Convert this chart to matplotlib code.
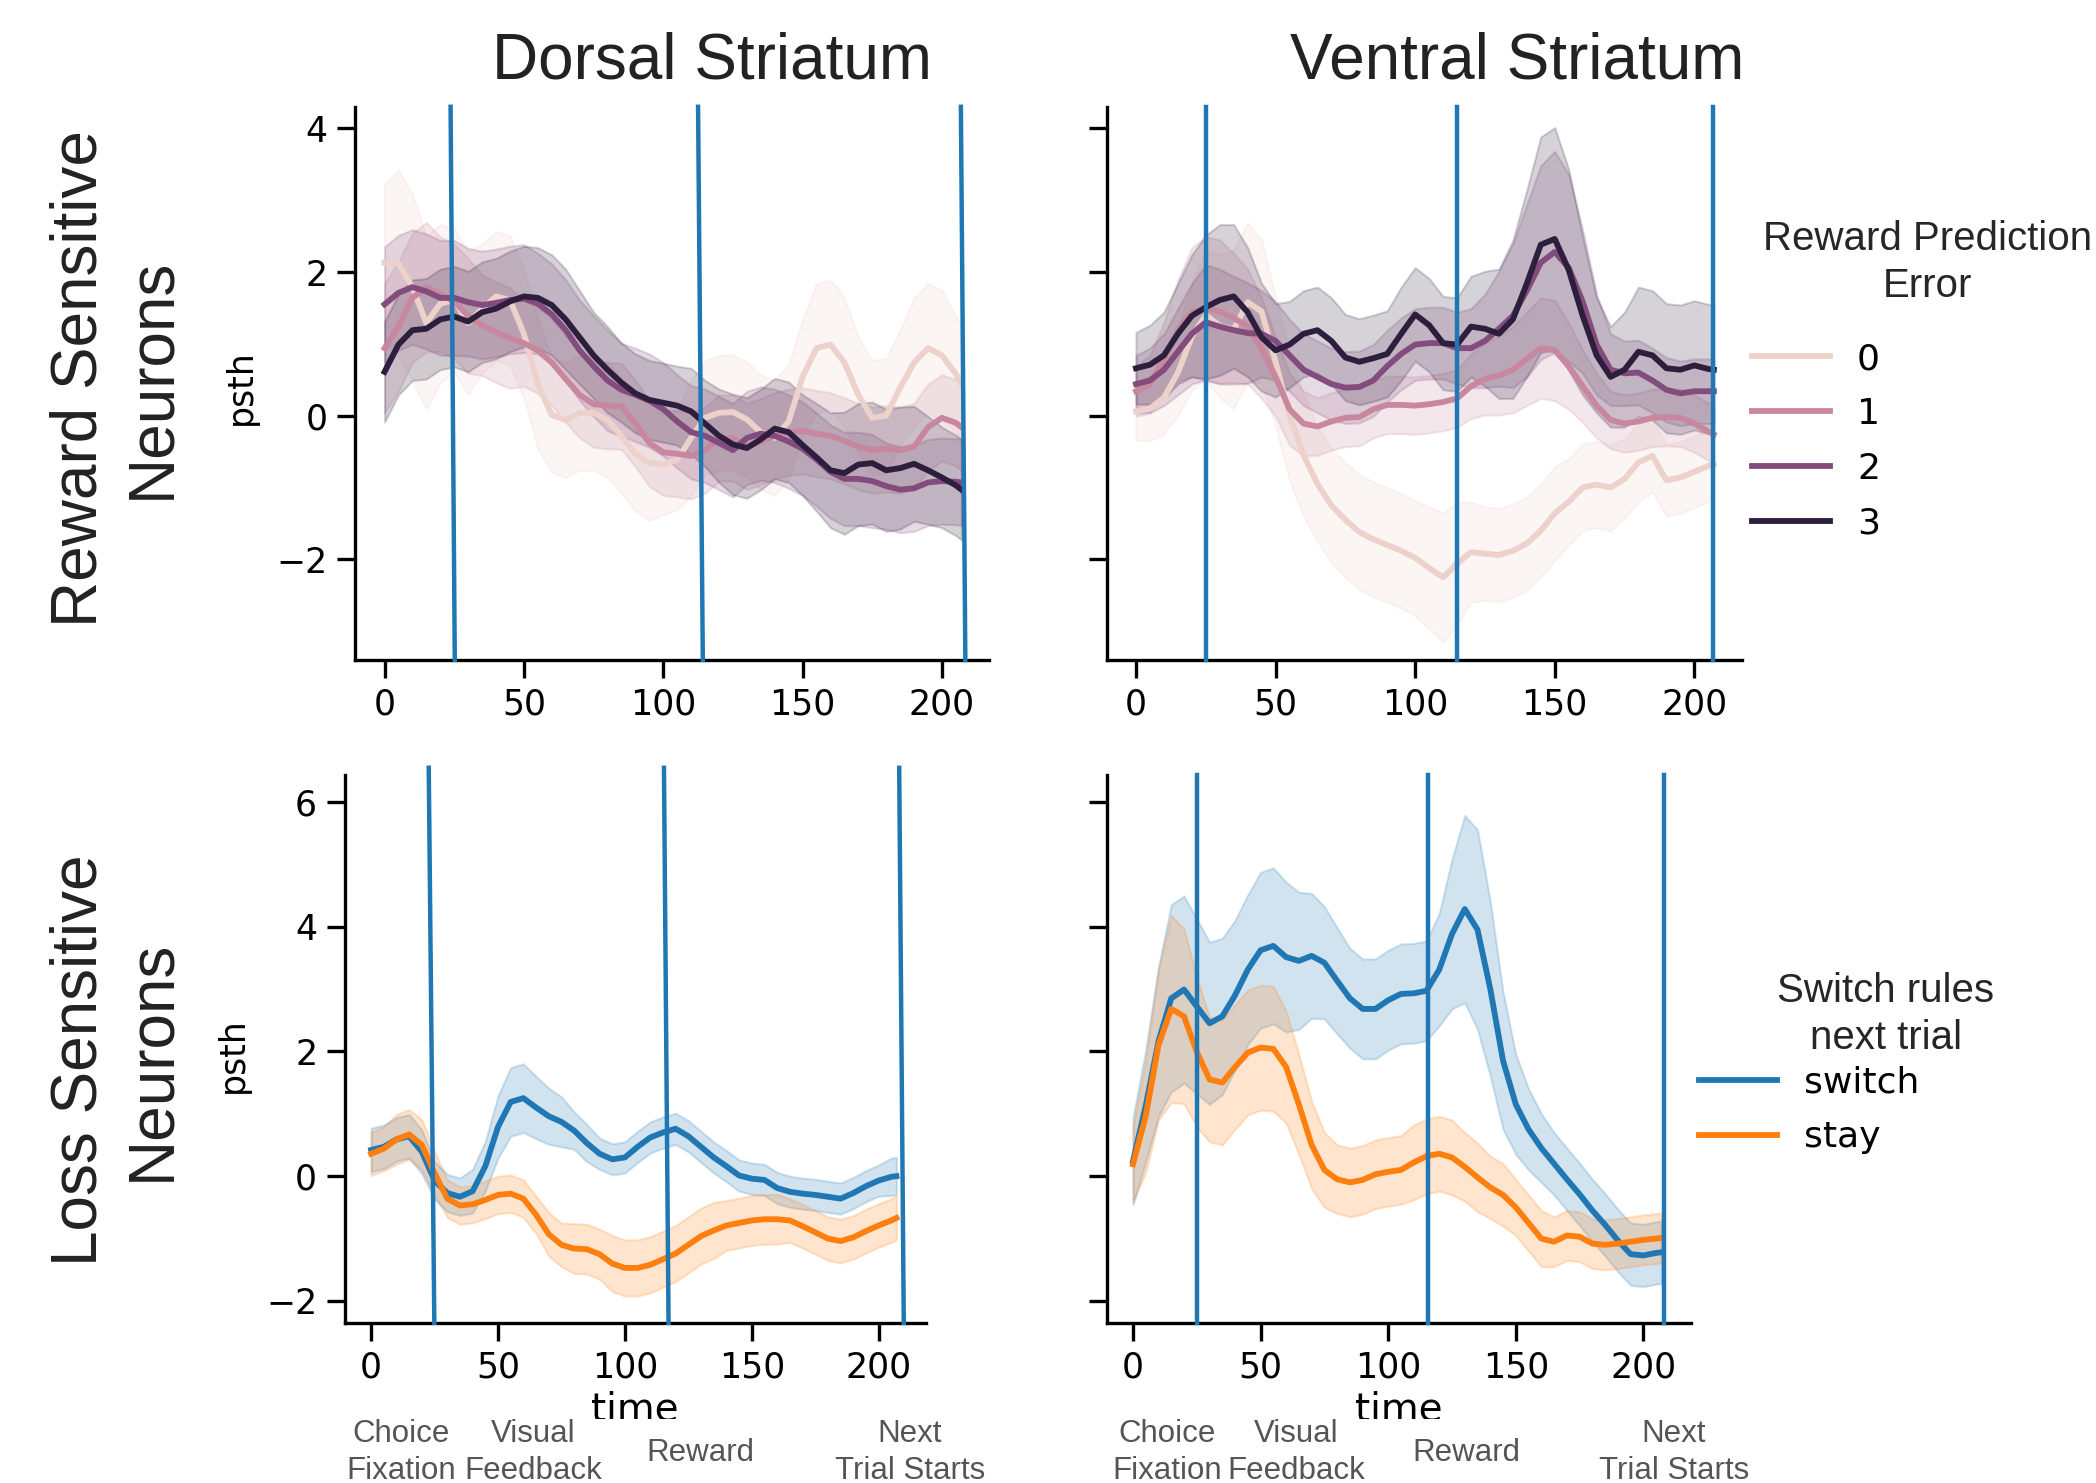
"""
PSTH panels: reward / loss sensitive neurons in dorsal and ventral striatum.
"""

import matplotlib.pyplot as plt
import numpy as np
import seaborn as sns
from matplotlib.lines import Line2D
from matplotlib.patches import Rectangle

# time grid (bins)
time = [0, 5, 10, 15, 20, 25, 30, 35, 40, 45, 50, 55, 60, 65, 70, 75, 80, 85, 90, 95,
        100, 105, 110, 115, 120, 125, 130, 135, 140, 145, 150, 155, 160, 165, 170, 175,
        180, 185, 190, 195, 200, 205, 207]

rpe_levels = ['0', '1', '2', '3']
switch_levels = ['switch', 'stay']

# --- Dorsal striatum, reward sensitive neurons (mean, CI half width) ---
ds_rpe0 = [2.13, 2.12, 1.79, 1.29, 1.56, 1.61, 1.29, 1.49, 1.66, 1.61, 1.14, 0.44, 0.01, -0.06,
           0.04, 0.04, -0.06, -0.28, -0.53, -0.66, -0.68, -0.61, -0.31, -0.03, 0.04, 0.05,
           -0.05, -0.23, -0.31, -0.08, 0.54, 0.94, 0.99, 0.74, 0.29, -0.03, 0.00, 0.39, 0.74,
           0.94, 0.84, 0.58, 0.44]
ds_rpe1 = [0.94, 1.24, 1.64, 1.79, 1.69, 1.59, 1.39, 1.26, 1.16, 1.08, 1.01, 0.91, 0.74, 0.51,
           0.29, 0.16, 0.14, 0.13, -0.11, -0.38, -0.51, -0.53, -0.56, -0.48, -0.31, -0.31,
           -0.43, -0.36, -0.28, -0.23, -0.21, -0.25, -0.28, -0.35, -0.43, -0.48, -0.46, -0.48,
           -0.43, -0.16, -0.03, -0.10, -0.16]
ds_rpe2 = [1.55, 1.71, 1.79, 1.73, 1.64, 1.64, 1.58, 1.54, 1.57, 1.61, 1.63, 1.56, 1.41, 1.19,
           0.91, 0.69, 0.49, 0.36, 0.29, 0.21, 0.09, -0.08, -0.23, -0.28, -0.38, -0.48, -0.31,
           -0.25, -0.28, -0.36, -0.46, -0.61, -0.78, -0.88, -0.88, -0.91, -0.98, -1.03, -1.01,
           -0.93, -0.91, -0.92, -0.93]
ds_rpe3 = [0.61, 0.99, 1.19, 1.21, 1.34, 1.38, 1.31, 1.44, 1.49, 1.59, 1.66, 1.64, 1.54, 1.34,
           1.09, 0.84, 0.64, 0.46, 0.31, 0.22, 0.18, 0.14, 0.06, -0.11, -0.28, -0.40, -0.45,
           -0.33, -0.18, -0.23, -0.41, -0.58, -0.76, -0.80, -0.68, -0.66, -0.76, -0.73, -0.67,
           -0.76, -0.86, -0.97, -1.03]
ds_rpe0_ci = [1.1, 1.3, 1.3, 1.2, 1.1, 1.0, 1.0, 0.9, 0.9, 0.9, 0.9, 0.9, 0.8, 0.8, 0.8, 0.8,
              0.8, 0.8, 0.8, 0.8, 0.7, 0.7, 0.8, 0.8, 0.8, 0.8, 0.8, 0.8, 0.8, 0.8, 0.8, 0.9,
              0.9, 0.9, 0.8, 0.8, 0.8, 0.8, 0.9, 0.9, 0.9, 0.8, 0.8]
ds_rpe1_ci = [0.9, 0.9, 0.9, 0.9, 0.8, 0.8, 0.8, 0.7, 0.7, 0.7, 0.6, 0.6, 0.6, 0.6, 0.6, 0.6,
              0.6, 0.6, 0.6, 0.6, 0.6, 0.6, 0.6, 0.6, 0.6, 0.6, 0.6, 0.6, 0.6, 0.6, 0.6, 0.6,
              0.6, 0.6, 0.6, 0.6, 0.6, 0.6, 0.6, 0.6, 0.6, 0.6, 0.6]
ds_rpe2_ci = [0.8, 0.8, 0.8, 0.8, 0.8, 0.8, 0.75, 0.75, 0.75, 0.75, 0.75, 0.7, 0.7, 0.7, 0.7,
              0.7, 0.7, 0.65, 0.65, 0.65, 0.65, 0.65, 0.65, 0.65, 0.65, 0.65, 0.65, 0.65, 0.65,
              0.65, 0.65, 0.65, 0.65, 0.65, 0.65, 0.65, 0.6, 0.6, 0.6, 0.6, 0.6, 0.6, 0.6]
ds_rpe3_ci = [0.7, 0.7, 0.7, 0.7, 0.7, 0.7, 0.7, 0.7, 0.7, 0.7, 0.7, 0.7, 0.7, 0.7, 0.65, 0.6,
              0.6, 0.55, 0.55, 0.55, 0.55, 0.55, 0.6, 0.6, 0.65, 0.7, 0.7, 0.7, 0.7, 0.7, 0.7,
              0.75, 0.8, 0.85, 0.85, 0.85, 0.85, 0.85, 0.8, 0.75, 0.7, 0.7, 0.7]

# --- Ventral striatum, reward sensitive neurons ---
vs_rpe0 = [0.06, 0.10, 0.25, 0.60, 1.10, 1.40, 1.25, 1.20, 1.58, 1.45, 0.75, 0.00, -0.55,
           -0.95, -1.25, -1.45, -1.62, -1.72, -1.80, -1.88, -1.98, -2.12, -2.25, -2.06, -1.90,
           -1.92, -1.94, -1.88, -1.78, -1.60, -1.36, -1.20, -1.00, -0.96, -1.00, -0.88, -0.65,
           -0.56, -0.90, -0.86, -0.78, -0.70, -0.68]
vs_rpe1 = [0.34, 0.44, 0.79, 1.19, 1.44, 1.49, 1.45, 1.36, 1.24, 0.94, 0.54, 0.09, -0.11,
           -0.15, -0.08, -0.03, -0.02, 0.09, 0.15, 0.15, 0.14, 0.16, 0.19, 0.24, 0.41, 0.51,
           0.56, 0.64, 0.79, 0.94, 0.91, 0.69, 0.41, 0.14, -0.06, -0.11, -0.08, -0.03, -0.02,
           -0.03, -0.11, -0.22, -0.26]
vs_rpe2 = [0.44, 0.49, 0.64, 0.89, 1.14, 1.30, 1.24, 1.19, 1.15, 1.14, 1.04, 0.84, 0.64, 0.54,
           0.44, 0.39, 0.40, 0.49, 0.69, 0.86, 0.99, 1.01, 1.01, 0.94, 0.94, 1.04, 1.21, 1.39,
           1.74, 2.13, 2.28, 2.06, 1.59, 0.99, 0.64, 0.59, 0.60, 0.49, 0.36, 0.31, 0.34, 0.34,
           0.34]
vs_rpe3 = [0.66, 0.71, 0.84, 1.14, 1.39, 1.51, 1.61, 1.66, 1.44, 1.09, 0.91, 0.99, 1.14, 1.19,
           1.04, 0.81, 0.75, 0.80, 0.86, 1.14, 1.41, 1.26, 1.01, 0.99, 1.24, 1.21, 1.14, 1.34,
           1.84, 2.38, 2.46, 2.03, 1.39, 0.84, 0.54, 0.64, 0.89, 0.84, 0.66, 0.64, 0.70, 0.65,
           0.64]
vs_rpe0_ci = [0.4, 0.45, 0.5, 0.6, 0.75, 0.9, 1.0, 1.1, 1.1, 1.0, 0.9, 0.9, 0.85, 0.8, 0.8,
              0.8, 0.8, 0.8, 0.8, 0.8, 0.8, 0.85, 0.9, 0.85, 0.7, 0.65, 0.65, 0.65, 0.65, 0.65,
              0.65, 0.6, 0.6, 0.6, 0.6, 0.55, 0.55, 0.5, 0.5, 0.5, 0.5, 0.5, 0.5]
vs_rpe1_ci = [0.35, 0.4, 0.5, 0.7, 0.9, 1.0, 1.0, 0.9, 0.8, 0.7, 0.55, 0.5, 0.45, 0.4, 0.4,
              0.4, 0.4, 0.4, 0.4, 0.4, 0.4, 0.4, 0.4, 0.4, 0.45, 0.5, 0.55, 0.6, 0.65, 0.7,
              0.7, 0.6, 0.5, 0.45, 0.4, 0.4, 0.4, 0.4, 0.4, 0.4, 0.4, 0.4, 0.4]
vs_rpe2_ci = [0.4, 0.45, 0.5, 0.6, 0.7, 0.8, 0.8, 0.75, 0.7, 0.6, 0.55, 0.5, 0.5, 0.5, 0.5,
              0.5, 0.5, 0.5, 0.5, 0.5, 0.5, 0.5, 0.5, 0.5, 0.55, 0.65, 0.8, 1.0, 1.2, 1.35,
              1.4, 1.3, 1.0, 0.7, 0.5, 0.45, 0.45, 0.45, 0.45, 0.45, 0.45, 0.45, 0.45]
vs_rpe3_ci = [0.5, 0.55, 0.6, 0.7, 0.85, 1.0, 1.05, 1.0, 0.9, 0.75, 0.65, 0.6, 0.6, 0.6, 0.6,
              0.6, 0.6, 0.6, 0.6, 0.65, 0.65, 0.65, 0.65, 0.65, 0.7, 0.8, 0.9, 1.1, 1.3, 1.5,
              1.55, 1.4, 1.1, 0.8, 0.7, 0.8, 0.9, 0.9, 0.9, 0.9, 0.9, 0.9, 0.9]

# --- Dorsal striatum, loss sensitive neurons ---
ds_switch = [0.42, 0.47, 0.59, 0.64, 0.39, -0.07, -0.27, -0.33, -0.24, 0.16, 0.79, 1.19, 1.25,
             1.10, 0.96, 0.87, 0.73, 0.53, 0.36, 0.27, 0.30, 0.47, 0.62, 0.70, 0.76, 0.64, 0.47,
             0.30, 0.16, 0.01, -0.04, -0.06, -0.19, -0.25, -0.28, -0.30, -0.33, -0.36, -0.27,
             -0.16, -0.07, -0.01, 0.00]
ds_stay = [0.36, 0.44, 0.59, 0.67, 0.50, 0.05, -0.36, -0.47, -0.45, -0.38, -0.30, -0.28, -0.36,
           -0.62, -0.93, -1.10, -1.16, -1.17, -1.25, -1.40, -1.47, -1.47, -1.42, -1.33, -1.24,
           -1.10, -0.96, -0.87, -0.79, -0.75, -0.71, -0.69, -0.69, -0.71, -0.80, -0.90, -1.00,
           -1.04, -0.98, -0.88, -0.79, -0.71, -0.67]
ds_switch_ci = [0.35, 0.35, 0.35, 0.35, 0.35, 0.3, 0.3, 0.3, 0.35, 0.4, 0.5, 0.55, 0.55, 0.5,
                0.45, 0.4, 0.3, 0.3, 0.25, 0.25, 0.25, 0.25, 0.25, 0.25, 0.25, 0.25, 0.25, 0.25,
                0.25, 0.25, 0.25, 0.25, 0.25, 0.25, 0.25, 0.25, 0.25, 0.25, 0.25, 0.25, 0.25,
                0.3, 0.3]
ds_stay_ci = [0.35, 0.35, 0.4, 0.4, 0.4, 0.35, 0.3, 0.3, 0.3, 0.3, 0.3, 0.3, 0.3, 0.3, 0.35,
              0.35, 0.4, 0.4, 0.4, 0.45, 0.45, 0.45, 0.45, 0.45, 0.45, 0.45, 0.45, 0.45, 0.4,
              0.4, 0.4, 0.4, 0.4, 0.35, 0.35, 0.35, 0.35, 0.35, 0.35, 0.35, 0.35, 0.35, 0.35]

# --- Ventral striatum, loss sensitive neurons ---
vs_switch = [0.24, 1.13, 2.16, 2.85, 2.99, 2.72, 2.45, 2.56, 2.90, 3.31, 3.62, 3.69, 3.51,
             3.45, 3.53, 3.42, 3.13, 2.85, 2.68, 2.68, 2.82, 2.92, 2.93, 2.97, 3.31, 3.88, 4.28,
             3.95, 3.00, 1.85, 1.15, 0.75, 0.45, 0.20, -0.05, -0.29, -0.55, -0.78, -1.03, -1.25,
             -1.27, -1.23, -1.22]
vs_stay = [0.19, 0.96, 2.10, 2.68, 2.56, 1.99, 1.55, 1.50, 1.75, 1.98, 2.06, 2.04, 1.75, 1.15,
           0.50, 0.10, -0.05, -0.10, -0.06, 0.03, 0.07, 0.10, 0.22, 0.32, 0.36, 0.30, 0.15,
           -0.02, -0.18, -0.30, -0.50, -0.75, -1.00, -1.05, -0.95, -0.97, -1.08, -1.10, -1.08,
           -1.05, -1.02, -1.00, -0.99]
vs_switch_ci = [0.7, 0.9, 1.2, 1.5, 1.5, 1.4, 1.3, 1.25, 1.2, 1.2, 1.25, 1.25, 1.2, 1.1, 1.0,
                0.9, 0.85, 0.8, 0.8, 0.8, 0.8, 0.8, 0.8, 0.8, 0.9, 1.2, 1.5, 1.6, 1.4, 1.1,
                0.8, 0.65, 0.55, 0.5, 0.5, 0.5, 0.5, 0.5, 0.5, 0.5, 0.5, 0.5, 0.5]
vs_stay_ci = [0.6, 0.9, 1.2, 1.5, 1.4, 1.2, 1.0, 1.0, 1.0, 1.0, 1.0, 1.0, 0.9, 0.8, 0.7, 0.6,
              0.55, 0.55, 0.55, 0.55, 0.55, 0.55, 0.6, 0.6, 0.6, 0.6, 0.55, 0.55, 0.5, 0.5,
              0.45, 0.45, 0.45, 0.4, 0.4, 0.4, 0.4, 0.4, 0.4, 0.4, 0.4, 0.4, 0.4]

# event markers (time at top of axis, time at bottom of axis) -- the pasted panels are slightly skewed
ds_reward_events = [(23.7, 25.2), (112.5, 114.2), (206.8, 208.4)]
vs_reward_events = [(25.1, 25.1), (115.0, 115.0), (206.7, 206.7)]
ds_loss_events = [(22.7, 24.9), (115.4, 117.2), (208.1, 209.9)]
vs_loss_events = [(25.1, 25.1), (115.6, 115.6), (208.0, 208.0)]

event_names = ['Choice\nFixation', 'Visual\nFeedback', 'Reward', 'Next\nTrial Starts']

EVENT_COLOR = '#1f77b4'
rpe_cmap = sns.cubehelix_palette(as_cmap=True)
rpe_colors = [rpe_cmap(v) for v in np.linspace(0, 1, len(rpe_levels))]
switch_colors = ['#1f77b4', '#ff7f0e']

plt.rcParams['font.family'] = ['DejaVu Sans']
TXT_FONT = 'Liberation Sans'
LINE_W = 4.2

fig = plt.figure(figsize=(20.96, 14.83), dpi=100)

ax_ds_r = fig.add_axes([0.1695, 0.555, 0.3025, 0.373])
ax_vs_r = fig.add_axes([0.528, 0.555, 0.303, 0.373])
ax_ds_l = fig.add_axes([0.1646, 0.108, 0.277, 0.3695])
ax_vs_l = fig.add_axes([0.528, 0.108, 0.2786, 0.3695])


def draw_series(ax, means, cis, colors):
    t = np.array(time)
    for m, ci, c in zip(means, cis, colors):
        m = np.array(m)
        ci = np.array(ci)
        ax.fill_between(t, m - ci, m + ci, color=c, alpha=0.2, lw=1.5)
        ax.plot(t, m, color=c, lw=LINE_W, solid_joinstyle='round')


def draw_events(ax, events, y_top=1.0):
    for top, bottom in events:
        ax.plot([top, bottom], [y_top, 0], color=EVENT_COLOR, lw=3.2,
                transform=ax.get_xaxis_transform(), clip_on=False, zorder=5)


def style_axis(ax, show_ylabels):
    for side in ['top', 'right']:
        ax.spines[side].set_visible(False)
    for side in ['left', 'bottom']:
        ax.spines[side].set_linewidth(2.4)
    ax.tick_params(length=13, width=2.4, labelsize=25, pad=7)
    ax.set_xticks([0, 50, 100, 150, 200])
    if not show_ylabels:
        ax.tick_params(labelleft=False)


draw_series(ax_ds_r, [ds_rpe0, ds_rpe1, ds_rpe2, ds_rpe3],
            [ds_rpe0_ci, ds_rpe1_ci, ds_rpe2_ci, ds_rpe3_ci], rpe_colors)
draw_series(ax_vs_r, [vs_rpe0, vs_rpe1, vs_rpe2, vs_rpe3],
            [vs_rpe0_ci, vs_rpe1_ci, vs_rpe2_ci, vs_rpe3_ci], rpe_colors)
draw_series(ax_ds_l, [ds_switch, ds_stay], [ds_switch_ci, ds_stay_ci], switch_colors)
draw_series(ax_vs_l, [vs_switch, vs_stay], [vs_switch_ci, vs_stay_ci], switch_colors)

draw_events(ax_ds_r, ds_reward_events)
draw_events(ax_vs_r, vs_reward_events)
draw_events(ax_ds_l, ds_loss_events, y_top=1.013)
draw_events(ax_vs_l, vs_loss_events)

for ax in [ax_ds_r, ax_vs_r]:
    ax.set_xlim(-10.5, 217)
    ax.set_ylim(-3.4, 4.3)
    ax.set_yticks([-2, 0, 2, 4])
for ax in [ax_ds_l, ax_vs_l]:
    ax.set_xlim(-10.3, 218.5)
    ax.set_ylim(-2.35, 6.43)
    ax.set_yticks([-2, 0, 2, 4, 6])
    ax.set_xlabel('time', fontsize=28, labelpad=4)

style_axis(ax_ds_r, True)
style_axis(ax_vs_r, False)
style_axis(ax_ds_l, True)
style_axis(ax_vs_l, False)

ax_ds_r.set_ylabel('psth', fontsize=25)
ax_ds_r.yaxis.set_label_coords(-0.153, 0.494)
ax_ds_l.set_ylabel('psth', fontsize=25)
ax_ds_l.yaxis.set_label_coords(-0.1635, 0.489)

# column and row titles
fig.text(0.3397, 0.9585, 'Dorsal Striatum', ha='center', va='center', fontsize=46,
         family=TXT_FONT, color='#222222')
fig.text(0.7238, 0.9585, 'Ventral Striatum', ha='center', va='center', fontsize=46,
         family=TXT_FONT, color='#222222')
fig.text(0.0553, 0.745, 'Reward Sensitive\nNeurons', rotation=90, ha='center', va='center',
         multialignment='center', fontsize=46, family=TXT_FONT, color='#222222',
         linespacing=1.28)
fig.text(0.0553, 0.285, 'Loss Sensitive\nNeurons', rotation=90, ha='center', va='center',
         multialignment='center', fontsize=46, family=TXT_FONT, color='#222222',
         linespacing=1.28)

# legends
rpe_handles = [Line2D([], [], color=c, lw=LINE_W) for c in rpe_colors]
fig.legend(rpe_handles, rpe_levels, loc='center left', bbox_to_anchor=(0.836, 0.7023),
           frameon=False, fontsize=26, handlelength=2.15, handletextpad=0.75,
           labelspacing=0.58, borderpad=0, borderaxespad=0)
fig.text(0.9198, 0.8233, 'Reward Prediction\nError', ha='center', va='center', fontsize=29,
         family=TXT_FONT, color='#262626', linespacing=1.3)

switch_handles = [Line2D([], [], color=c, lw=LINE_W) for c in switch_colors]
fig.legend(switch_handles, switch_levels, loc='center left', bbox_to_anchor=(0.8106, 0.2515),
           frameon=False, fontsize=26, handlelength=2.15, handletextpad=0.75,
           labelspacing=0.58, borderpad=0, borderaxespad=0)
fig.text(0.8998, 0.3156, 'Switch rules\nnext trial', ha='center', va='center', fontsize=29,
         family=TXT_FONT, color='#262626', linespacing=1.3)

# event annotation strip pasted under the bottom row
fig.add_artist(Rectangle((0, 0), 1, 1 - 1419 / 1483, transform=fig.transFigure,
                         facecolor='white', edgecolor='none', zorder=5))
ds_label_x = [0.1913, 0.2543, 0.334, 0.4342]
vs_label_x = [0.5568, 0.6183, 0.6994, 0.7987]
for xs in [ds_label_x, vs_label_x]:
    for x, name in zip(xs, event_names):
        fig.text(x, 0.0205, name, ha='center', va='center', fontsize=22.5, family=TXT_FONT,
                 color='#555555', zorder=6, linespacing=1.3)

plt.savefig('out.png', dpi=100)
plt.close()
